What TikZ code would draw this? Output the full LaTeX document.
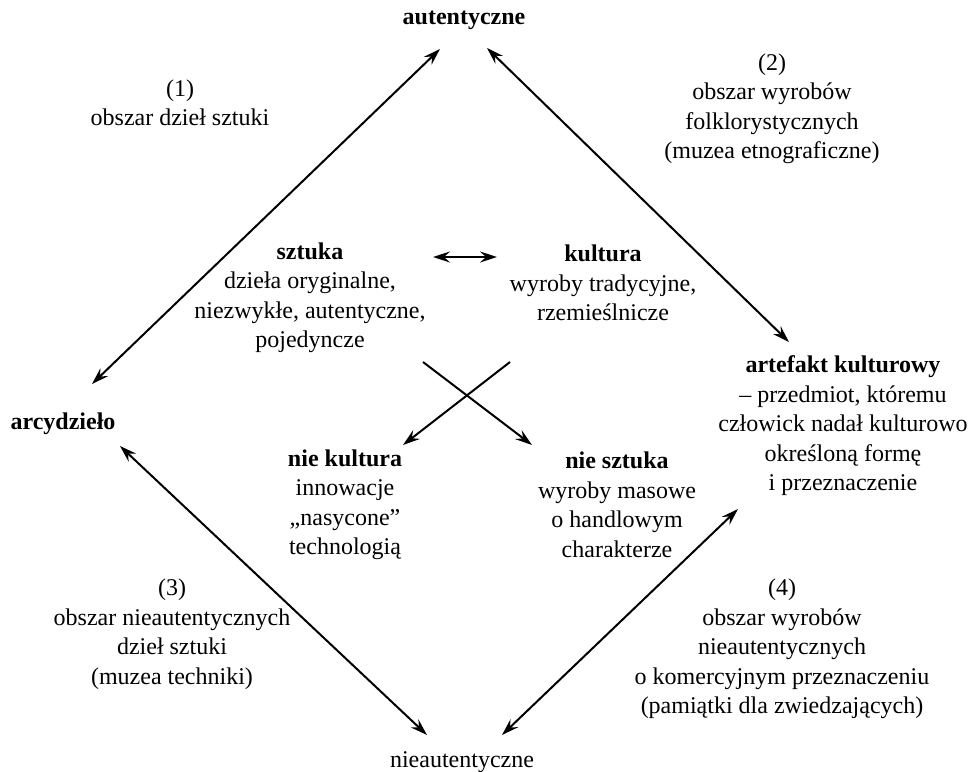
\documentclass[tikz,border=0pt]{standalone}
\usepackage{fontspec}
\setmainfont{Liberation Serif}
\usetikzlibrary{arrows.meta}
\begin{document}
\begin{tikzpicture}[x=1pt,y=-1pt,
  lbl/.style={align=center,font=\fontsize{24}{29.5}\selectfont,inner sep=0pt},
  tip/.style={Stealth[length=17pt,width=11pt,inset=6pt]},
  arr/.style={line width=2pt,{Stealth[length=17pt,width=11pt,inset=6pt]}-{Stealth[length=17pt,width=11pt,inset=6pt]}},
  sarr/.style={line width=2pt,-{Stealth[length=17pt,width=11pt,inset=6pt]}}]
\useasboundingbox (0,0) rectangle (971,771);
% labels
\node[lbl] (aut) at (464,20) {\textbf{autentyczne}};
\node[lbl] (r1) at (180,103) {(1)\\obszar dzieł sztuki};
\node[lbl] (r2) at (772,109) {(2)\\obszar wyrobów\\folklorystycznych\\(muzea etnograficzne)};
\node[lbl] (szt) at (310,298) {\textbf{sztuka}\\dzieła oryginalne,\\niezwykłe, autentyczne,\\pojedyncze};
\node[lbl] (kul) at (603,283) {\textbf{kultura}\\wyroby tradycyjne,\\rzemieślnicze};
\node[lbl] (art) at (843,426) {\textbf{artefakt kulturowy}\\– przedmiot, któremu\\człowick nadał kulturowo\\określoną formę\\i przeznaczenie};
\node[lbl] (arc) at (63,424) {\textbf{arcydzieło}};
\node[lbl] (nk) at (345,505) {\textbf{nie kultura}\\innowacje\\„nasycone”\\technologią};
\node[lbl] (ns) at (617,505) {\textbf{nie sztuka}\\wyroby masowe\\o handlowym\\charakterze};
\node[lbl] (r3) at (172,634) {(3)\\obszar nieautentycznych\\dzieł sztuki\\(muzea techniki)};
\node[lbl] (r4) at (782,649) {(4)\\obszar wyrobów\\nieautentycznych\\o komercyjnym przeznaczeniu\\(pamiątki dla zwiedzających)};
\node[lbl] (nie) at (462,762) {nieautentyczne};
% arrow end points
\coordinate (tl) at (440,49);
\coordinate (lt) at (92,384);
\coordinate (tr) at (487,48);
\coordinate (rt) at (789,342);
\coordinate (lb) at (120,446);
\coordinate (bl) at (427,735);
\coordinate (rb) at (738,509);
\coordinate (br) at (502,735);
\coordinate (hl) at (433,257);
\coordinate (hr) at (497,257);
\coordinate (c1) at (423,362);
\coordinate (c2) at (532,445);
\coordinate (c3) at (510,362);
\coordinate (c4) at (403,445);
\draw[arr] (lt) -- (tl);
\draw[arr] (tr) -- (rt);
\draw[arr] (lb) -- (bl);
\draw[arr] (rb) -- (br);
\draw[arr] (hl) -- (hr);
\draw[sarr] (c1) -- (c2);
\draw[sarr] (c3) -- (c4);
\end{tikzpicture}
\end{document}
